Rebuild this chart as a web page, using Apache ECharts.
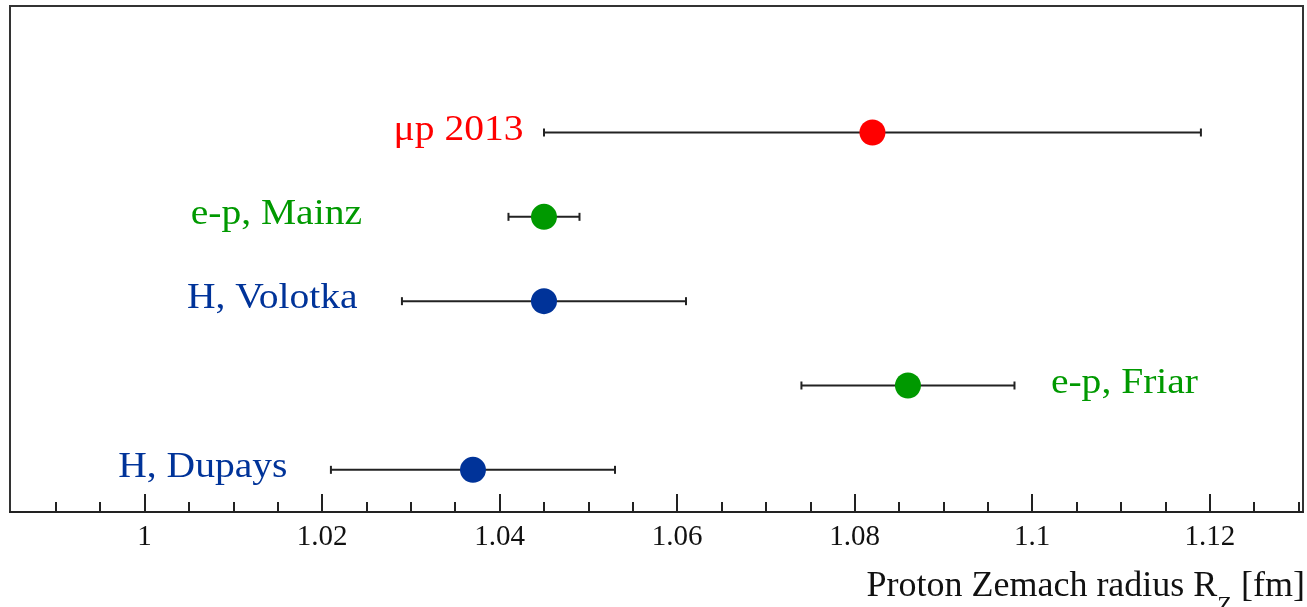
<!DOCTYPE html>
<html>
<head>
<meta charset="utf-8">
<script src="https://cdn.jsdelivr.net/npm/echarts@6/dist/echarts.min.js"></script>
<style>
  html, body { margin: 0; padding: 0; background: #fff; }
  #zemach { width: 1307px; height: 607px; }
</style>
</head>
<body>
<div id="zemach"></div>
<script>
// measurements (fm), top row first
var names = ['μp 2013', 'e-p, Mainz', 'H, Volotka', 'e-p, Friar', 'H, Dupays'];
var radius = [1.082, 1.045, 1.045, 1.086, 1.037];
var errors = [0.037, 0.004, 0.016, 0.012, 0.016];
var rows = [5, 4, 3, 2, 1];
var colors = ['#ff0000', '#009900', '#003399', '#009900', '#003399'];
// where each name sits on the radius axis
var labelAt = [1.0427, 1.0245, 1.024, 1.1021, 1.0161];
var labelAlign = ['right', 'right', 'right', 'left', 'right'];

var majorTicks = [1, 1.02, 1.04, 1.06, 1.08, 1.1, 1.12];
var tickLabels = ['1', '1.02', '1.04', '1.06', '1.08', '1.1', '1.12'];
var minorTicks = [0.99, 0.995, 1.005, 1.01, 1.015, 1.025, 1.03, 1.035, 1.045, 1.05, 1.055,
    1.065, 1.07, 1.075, 1.085, 1.09, 1.095, 1.105, 1.11, 1.115, 1.125, 1.13];

var serif = '"Liberation Serif", "DejaVu Serif", serif';
var myChart = echarts.init(document.getElementById('zemach'));

function renderItem(params, api) {
    var i = params.dataIndex;
    var c = api.coord([api.value(0), api.value(1)]);
    var lo = api.coord([api.value(2), api.value(1)]);
    var hi = api.coord([api.value(3), api.value(1)]);
    var t = api.coord([api.value(4), api.value(1)]);
    var line = { stroke: '#222', lineWidth: 2 };
    return {
        type: 'group',
        children: [
            { type: 'line', shape: { x1: lo[0], y1: lo[1], x2: hi[0], y2: hi[1] }, style: line },
            { type: 'line', shape: { x1: lo[0], y1: lo[1] - 4, x2: lo[0], y2: lo[1] + 4 }, style: line },
            { type: 'line', shape: { x1: hi[0], y1: hi[1] - 4, x2: hi[0], y2: hi[1] + 4 }, style: line },
            { type: 'circle', shape: { cx: c[0], cy: c[1], r: 13 }, style: { fill: colors[i] } },
            {
                // the original lettering is a bit wide, stretch it sideways
                type: 'text', x: t[0], y: t[1] - 2, scaleX: 1.13, scaleY: 1,
                style: {
                    text: names[i], fill: colors[i], fontFamily: serif, fontSize: 35,
                    align: labelAlign[i], verticalAlign: 'middle'
                }
            }
        ]
    };
}

var points = [];
for (var i = 0; i < radius.length; i++) {
    points.push([radius[i], rows[i], radius[i] - errors[i], radius[i] + errors[i], labelAt[i]]);
}

var option = {
    animation: false,
    grid: {
        left: 10, right: 4, top: 6, bottom: 95,
        containLabel: false, outerBoundsMode: 'none',
        show: true, borderColor: '#333', borderWidth: 2
    },
    xAxis: [{
        type: 'value',
        min: 0.98485,
        max: 1.1305,
        position: 'bottom',
        splitLine: { show: false },
        axisLine: { show: true, onZero: false, lineStyle: { color: '#222', width: 2 } },
        axisTick: { show: true, inside: true, length: 18, customValues: majorTicks,
            lineStyle: { color: '#222', width: 2 } },
        axisLabel: {
            customValues: majorTicks, margin: 11,
            color: '#111', fontFamily: serif, fontSize: 29,
            formatter: function (v) {
                var k = majorTicks.indexOf(v);
                return k >= 0 ? tickLabels[k] : '';
            }
        },
        name: 'Proton Zemach radius R{sub|Z} [fm]',
        nameLocation: 'end',
        nameGap: 2,
        nameTextStyle: {
            align: 'right', verticalAlign: 'top', padding: [44, 0, 0, 0],
            color: '#111', fontFamily: serif, fontSize: 36,
            rich: {
                sub: { fontFamily: serif, fontSize: 24, verticalAlign: 'top', padding: [38, 0, 0, 0], color: '#111' }
            }
        }
    }, {
        type: 'value',
        min: 0.98485,
        max: 1.1305,
        position: 'bottom',
        splitLine: { show: false },
        axisLine: { show: false },
        axisTick: { show: true, inside: true, length: 10, customValues: minorTicks,
            lineStyle: { color: '#222', width: 2 } },
        axisLabel: { show: false }
    }],
    yAxis: {
        type: 'value',
        min: 0.5,
        max: 6.5,
        show: false
    },
    series: [{
        type: 'custom',
        renderItem: renderItem,
        encode: { x: [0, 2, 3, 4], y: 1 },
        data: points
    }]
};
myChart.setOption(option);
</script>
</body>
</html>
